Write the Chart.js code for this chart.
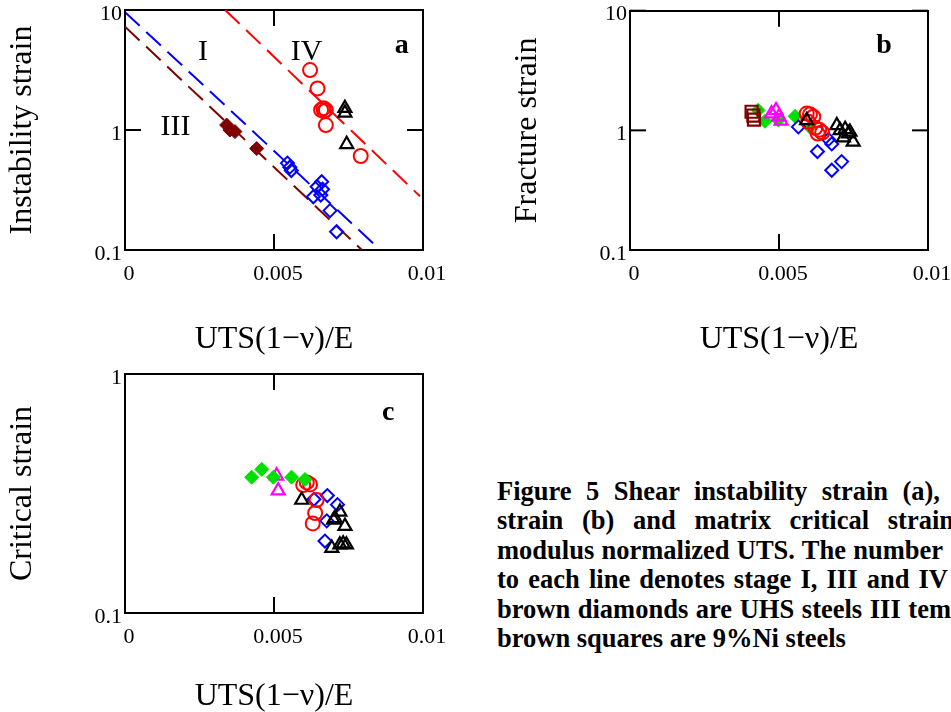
<!DOCTYPE html>
<html>
<head>
<meta charset="utf-8">
<script src="https://cdn.jsdelivr.net/npm/chart.js@4/dist/chart.umd.min.js"></script>
<style>
html,body{margin:0;padding:0;background:#fff;overflow:hidden;width:951px;height:712px;}
canvas{position:absolute;display:block;}
#cap{position:absolute;left:497px;top:477px;font-family:"Liberation Serif","Times New Roman",serif;font-weight:bold;font-size:26.5px;line-height:29.45px;color:#000;white-space:nowrap;}
#cap span{display:inline-block;white-space:nowrap;}
</style>
</head>
<body>
<canvas id="ca" width="450" height="360" style="left:0;top:0"></canvas>
<canvas id="cb" width="446" height="360" style="left:505px;top:0"></canvas>
<canvas id="cc" width="450" height="360" style="left:0;top:364px"></canvas>
<div id="cap"></div>
<script>
// ---------- axes ----------
const xTickValues = [0, 0.005, 0.01];
const xTickLabels = ['0', '0.005', '0.01'];
const yTickValuesAB = [0.1, 1, 10];
const yTickLabelsAB = ['0.1', '1', '10'];
const yTickValuesC = [0.1, 1];
const yTickLabelsC = ['0.1', '1'];
const xTitle = 'UTS(1\u2212\u03bd)/E';

// ---------- panel a : instability strain ----------
const aRedX = [0.00621, 0.00646, 0.00658, 0.00666, 0.00674, 0.00668, 0.00674, 0.00791];
const aRedY = [3.16, 2.22, 1.47, 1.52, 1.47, 1.43, 1.10, 0.607];
const aBlackX = [0.00738, 0.00738, 0.00744];
const aBlackY = [1.52, 1.39, 0.76];
const aBrownX = [0.00341, 0.00352, 0.00369, 0.00442];
const aBrownY = [1.10, 1.00, 0.97, 0.70];
const aBlueX = [0.00545, 0.00553, 0.00558, 0.00660, 0.00645, 0.00663, 0.00632, 0.00657, 0.00688, 0.00710];
const aBlueY = [0.53, 0.49, 0.46, 0.371, 0.337, 0.321, 0.278, 0.287, 0.213, 0.142];
const lineIX = [0, 0.00846];
const lineIY = [9.6, 0.106];
const lineIIIX = [0, 0.00795];
const lineIIIY = [7.26, 0.1];
const lineIVX = [0.00336, 0.0099];
const lineIVY = [10, 0.28];

// ---------- panel b : fracture strain ----------
const bBrownX = [0.00408, 0.00414, 0.00416];
const bBrownY = [1.43, 1.33, 1.23];
const bGreenX = [0.00430, 0.00453, 0.00498, 0.00554, 0.00604];
const bGreenY = [1.47, 1.19, 1.22, 1.31, 1.06];
const bMagentaX = [0.00475, 0.00490, 0.00500, 0.00507];
const bMagentaY = [1.38, 1.47, 1.30, 1.20];
const bRedX = [0.00593, 0.00604, 0.00615, 0.00598, 0.00622, 0.00635, 0.00645, 0.00630];
const bRedY = [1.38, 1.36, 1.30, 1.18, 1.05, 1.01, 0.96, 0.94];
const bBlackX = [0.00694, 0.00705, 0.00716, 0.00733, 0.00749, 0.00738, 0.00722, 0.00593];
const bBlackY = [1.10, 1.00, 0.87, 0.94, 0.80, 0.97, 1.02, 1.21];
const bBlueX = [0.00565, 0.00666, 0.00677, 0.00629, 0.00710, 0.00677];
const bBlueY = [1.07, 0.84, 0.77, 0.665, 0.548, 0.464];

// ---------- panel c : critical strain ----------
const cGreenX = [0.00425, 0.00459, 0.00498, 0.00559, 0.00604];
const cGreenY = [0.370, 0.399, 0.370, 0.370, 0.362];
const cMagentaX = [0.00509, 0.00514];
const cMagentaY = [0.375, 0.325];
const cRedX = [0.00598, 0.00610, 0.00621, 0.00643, 0.00638, 0.00630];
const cRedY = [0.343, 0.352, 0.345, 0.297, 0.262, 0.237];
const cBlackX = [0.00593, 0.00721, 0.00705, 0.00700, 0.00738, 0.00694, 0.00721, 0.00732, 0.00743];
const cBlackY = [0.297, 0.265, 0.249, 0.245, 0.231, 0.187, 0.193, 0.195, 0.193];
const cBlueX = [0.00634, 0.00679, 0.00713, 0.00677, 0.00671];
const cBlueY = [0.299, 0.310, 0.284, 0.243, 0.200];

// ---------- caption ----------
const captionLines = [
  'Figure 5 Shear instability strain (a),',
  'strain (b) and matrix critical strain',
  'modulus normalized UTS. The number',
  'to each line denotes stage I, III and IV',
  'brown diamonds are UHS steels III tem',
  'brown squares are 9%Ni steels'
];
const captionWidths = [443, 457, 446, 451, 454, null];

// ---------- styling ----------
const FONT = "'Liberation Serif','Times New Roman',serif";
const RED = '#ff0000', BLUE = '#0000ff', BLACK = '#000000', BROWN = '#800000', GREEN = '#00e000', MAGENTA = '#ff00ff';
const TICK_LEN = 16;

function pts(xs, ys) { return xs.map((x, i) => ({x: x, y: ys[i]})); }
function marks(xs, ys, style, color, filled, r, bw) {
  return {data: pts(xs, ys), pointStyle: style, pointRadius: r, pointBorderColor: color,
    pointBackgroundColor: filled ? color : 'rgba(0,0,0,0)', pointBorderWidth: bw, showLine: false};
}
function dline(xs, ys, color) {
  return {data: pts(xs, ys), showLine: true, borderColor: color, borderWidth: 2,
    borderDash: [20, 9], pointRadius: 0, fill: false};
}
function noPad(s) { s.paddingTop = 0; s.paddingBottom = 0; s.paddingLeft = 0; s.paddingRight = 0; }

function buildScales(yVals, yLabs, yTitle, xH, xTitlePad) {
  const grid = {display: false, drawOnChartArea: false, drawTicks: false};
  const border = {display: true, color: '#000', width: 2};
  const setY = s => { s.ticks = yVals.map(v => ({value: v})); };
  const setX = s => { s.ticks = xTickValues.map(v => ({value: v})); };
  const yMin = yVals[0], yMax = yVals[yVals.length - 1];
  return {
    x: {type: 'linear', position: 'bottom', min: 0, max: 0.01, afterBuildTicks: setX, grid: grid, border: border,
      ticks: {callback: (v, i) => xTickLabels[i], font: {family: FONT, size: 22}, color: '#000', padding: 11, labelOffset: 4, maxRotation: 0, autoSkip: false},
      title: {display: true, text: xTitle, font: {family: FONT, size: 32}, color: '#000', padding: {top: 0, bottom: xTitlePad}},
      afterFit: s => { s.height = xH; noPad(s); }},
    x2: {type: 'linear', axis: 'x', position: 'top', min: 0, max: 0.01, afterBuildTicks: setX, grid: grid, border: border,
      ticks: {display: false}, afterFit: s => { s.height = 0; noPad(s); }},
    y: {type: 'logarithmic', position: 'left', min: yMin, max: yMax, afterBuildTicks: setY, grid: grid, border: border,
      ticks: {callback: (v, i) => yLabs[i], font: {family: FONT, size: 22}, color: '#000', padding: 3, labelOffset: 4, autoSkip: false},
      title: {display: true, text: yTitle, font: {family: FONT, size: 32}, color: '#000', padding: {top: 3, bottom: 0}},
      afterFit: s => { s.width = 125; noPad(s); }},
    y2: {type: 'logarithmic', axis: 'y', position: 'right', min: yMin, max: yMax, afterBuildTicks: setY, grid: grid, border: border,
      ticks: {display: false}, afterFit: s => { s.width = 0; noPad(s); }}
  };
}

// inward tick marks on all four sides, placed by each scale
const innerTicks = {
  id: 'innerTicks',
  afterDraw(chart) {
    const ctx = chart.ctx;
    ctx.save();
    ctx.setLineDash([]);
    ctx.strokeStyle = '#000';
    ctx.lineWidth = 2;
    Object.keys(chart.scales).forEach(k => {
      const s = chart.scales[k];
      const vals = k.charAt(0) === 'x' ? xTickValues : (s.max > 5 ? yTickValuesAB : yTickValuesC);
      vals.forEach(v => {
        const p = s.getPixelForValue(v);
        ctx.beginPath();
        if (s.position === 'bottom') { ctx.moveTo(p, s.top); ctx.lineTo(p, s.top - TICK_LEN); }
        else if (s.position === 'top') { ctx.moveTo(p, s.bottom); ctx.lineTo(p, s.bottom + TICK_LEN); }
        else if (s.position === 'left') { ctx.moveTo(s.right, p); ctx.lineTo(s.right + TICK_LEN, p); }
        else { ctx.moveTo(s.left, p); ctx.lineTo(s.left - TICK_LEN, p); }
        ctx.stroke();
      });
    });
    ctx.restore();
  }
};

const panelText = {
  id: 'panelText',
  afterDraw(chart, args, opts) {
    const ctx = chart.ctx;
    (opts.items || []).forEach(it => {
      ctx.save();
      ctx.font = it.font;
      ctx.fillStyle = '#000';
      ctx.textAlign = 'center';
      ctx.textBaseline = 'alphabetic';
      ctx.fillText(it.text, it.x, it.y);
      ctx.restore();
    });
  }
};

function makeChart(id, datasets, scales, padding, items) {
  return new Chart(document.getElementById(id), {
    type: 'scatter',
    data: {datasets: datasets},
    options: {
      responsive: false, animation: false, events: [],
      layout: {padding: padding},
      scales: scales,
      plugins: {legend: {display: false}, tooltip: {enabled: false}, panelText: {items: items}}
    },
    plugins: [innerTicks, panelText]
  });
}

const LBL = 'bold 28px ' + FONT;
const ROM = '30px ' + FONT;

makeChart('ca', [
  marks(aBlackX, aBlackY, 'triangle', BLACK, false, 7.5, 2.2),
  marks(aRedX, aRedY, 'circle', RED, false, 7, 2),
  marks(aBlueX, aBlueY, 'rectRot', BLUE, false, 6.5, 2),
  marks(aBrownX, aBrownY, 'rectRot', BROWN, true, 7, 1),
  dline(lineIVX, lineIVY, RED),
  dline(lineIX, lineIY, BLUE),
  dline(lineIIIX, lineIIIY, BROWN)
], buildScales(yTickValuesAB, yTickLabelsAB, 'Instability strain', 110, 1),
  {top: 10, right: 27, left: 0, bottom: 0},
  [{text: 'a', x: 401.7, y: 53, font: LBL},
   {text: 'I', x: 203, y: 60, font: ROM},
   {text: 'IV', x: 306.7, y: 60, font: ROM},
   {text: 'III', x: 175.5, y: 135, font: ROM}]);

makeChart('cb', [
  marks(bBlackX, bBlackY, 'triangle', BLACK, false, 7.5, 2.2),
  marks(bRedX, bRedY, 'circle', RED, false, 7, 2),
  marks(bBlueX, bBlueY, 'rectRot', BLUE, false, 6.5, 2),
  marks(bMagentaX, bMagentaY, 'triangle', MAGENTA, false, 7.5, 2.2),
  marks(bBrownX, bBrownY, 'rect', BROWN, false, 8.5, 2.2),
  marks(bGreenX, bGreenY, 'rectRot', GREEN, true, 7, 1)
], buildScales(yTickValuesAB, yTickLabelsAB, 'Fracture strain', 110, 1),
  {top: 10, right: 23, left: 0, bottom: 0},
  [{text: 'b', x: 379, y: 53, font: LBL}]);

makeChart('cc', [
  marks(cGreenX, cGreenY, 'rectRot', GREEN, true, 7, 1),
  marks(cBlackX, cBlackY, 'triangle', BLACK, false, 7.5, 2.2),
  marks(cRedX, cRedY, 'circle', RED, false, 7, 2),
  marks(cBlueX, cBlueY, 'rectRot', BLUE, false, 6.5, 2),
  marks(cMagentaX, cMagentaY, 'triangle', MAGENTA, false, 7.5, 2.2)
], buildScales(yTickValuesC, yTickLabelsC, 'Critical strain', 111, 8),
  {top: 10, right: 27, left: 0, bottom: 0},
  [{text: 'c', x: 388.3, y: 56, font: LBL}]);

// caption lines, justified to the widths seen in the figure
const cap = document.getElementById('cap');
captionLines.forEach((t, i) => {
  const s = document.createElement('span');
  s.textContent = t;
  cap.appendChild(s);
  cap.appendChild(document.createElement('br'));
  const w = captionWidths[i];
  if (w) {
    const nat = s.getBoundingClientRect().width;
    const n = t.split(' ').length - 1;
    if (n > 0) s.style.wordSpacing = ((w - nat) / n) + 'px';
  }
});
</script>
</body>
</html>
